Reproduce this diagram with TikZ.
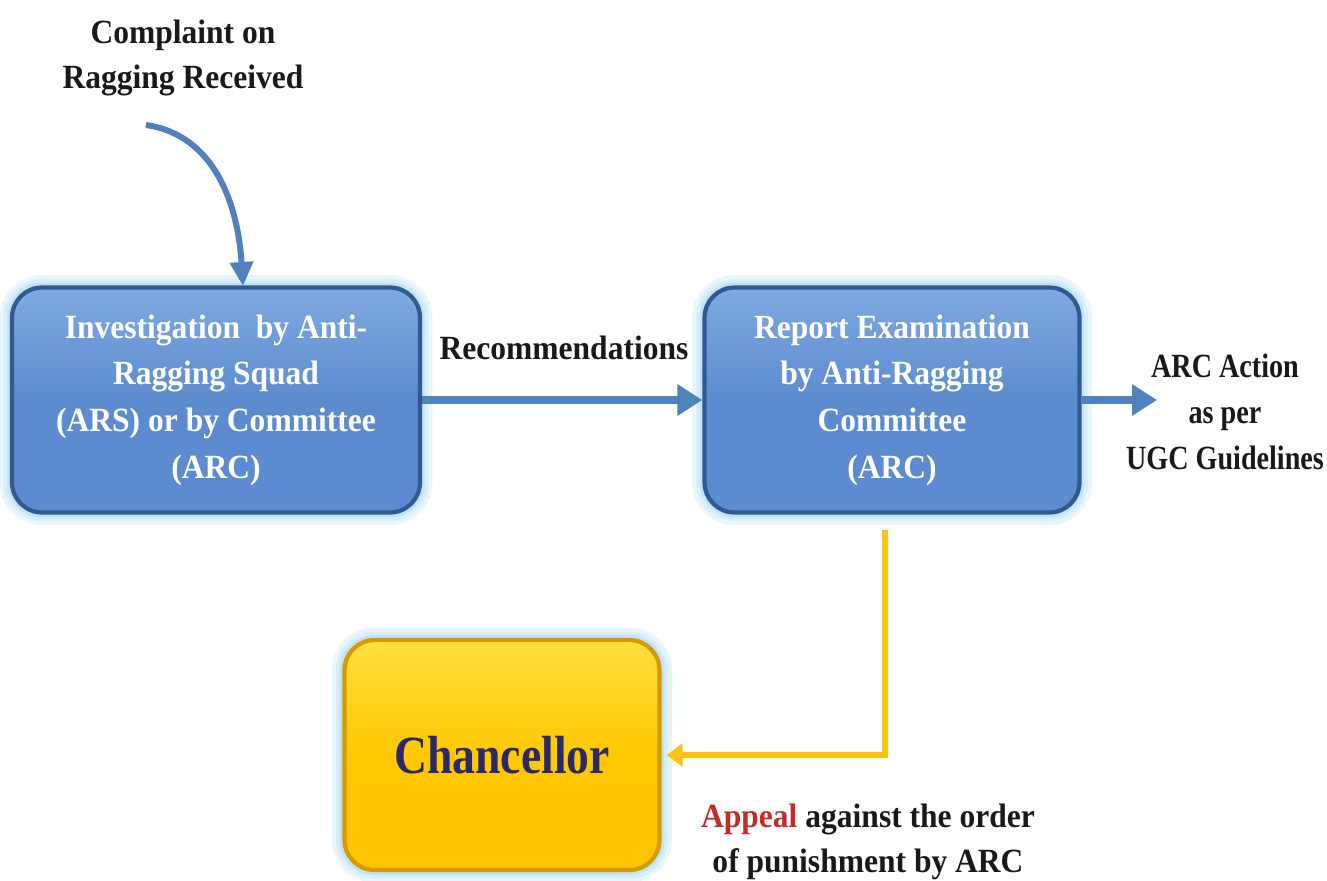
\documentclass[tikz,border=0pt]{standalone}
\usepackage{fontspec}
\newfontfamily\cond{Liberation Serif}[FakeStretch=0.93]
\newfontfamily\condb{Liberation Serif}[FakeStretch=0.85]
\newfontfamily\condc{Liberation Serif}[FakeStretch=0.83]
\usetikzlibrary{arrows.meta}
\definecolor{boxblue}{HTML}{5C8CCF}
\definecolor{boxbluetop}{HTML}{7FA9E0}
\definecolor{boxborder}{HTML}{2F5A92}
\definecolor{glowc}{HTML}{BFE3F7}
\definecolor{arrblue}{HTML}{4F81BD}
\definecolor{chanyel}{HTML}{FFC800}
\definecolor{chanyeltop}{HTML}{FFDF40}
\definecolor{chanborder}{HTML}{D49A00}
\definecolor{arryel}{HTML}{FFC20E}
\definecolor{navy}{HTML}{2A2A68}
\definecolor{appred}{HTML}{C42B2B}
\begin{document}
\begin{tikzpicture}[x=0.02cm,y=-0.02cm,
  glow/.style={preaction={draw=glowc!35,line width=0.5cm},
               preaction={draw=glowc!60,line width=0.34cm},
               preaction={draw=glowc,line width=0.2cm}},
  bluebox/.style={glow,rounded corners=0.6cm,draw=boxborder,line width=2.4pt,
    top color=boxbluetop,bottom color=boxblue,middle color=boxblue,
    minimum height=4.5cm,align=center,text=white,
    font=\cond\bfseries\fontsize{19.3}{26.6}\selectfont},
  yelbox/.style={glow,rounded corners=0.6cm,draw=chanborder,line width=2.4pt,
    top color=chanyeltop,bottom color=chanyel!92!orange,middle color=chanyel,
    minimum width=6.3cm,minimum height=4.6cm,align=center,text=navy,
    font=\condb\bfseries\fontsize{30.6}{36}\selectfont},
  lbl/.style={align=center,text=black!90,font=\cond\bfseries\fontsize{19.3}{25.8}\selectfont},
  barrow/.style={draw=arrblue,line width=0.17cm,-{Triangle[length=0.5cm,width=0.6cm]}},
  carrow/.style={draw=arrblue,line width=0.12cm,-{Triangle[length=0.48cm,width=0.45cm]}},
  yarrow/.style={draw=arryel,line width=0.13cm,-{Triangle[length=0.32cm,width=0.45cm]}}
]
\useasboundingbox (0,0) rectangle (1327,880);
\fill[white] (0,0) rectangle (1327,880);

\node[lbl] (complaint) at (183,58) {Complaint on\\Ragging Received};
\node[bluebox,minimum width=8.16cm] (inv) at (216,400)
  {Investigation~ by Anti-\\Ragging Squad\\(ARS) or by Committee\\(ARC)};
\node[bluebox,minimum width=7.5cm] (rep) at (892,400)
  {Report Examination\\by Anti-Ragging\\Committee\\(ARC)};
\node[lbl] (rec) at (564,348) {Recommendations};
\node[lbl,font=\condc\bfseries\fontsize{19.3}{26.2}\selectfont] (act) at (1225,412) {ARC Action\\as per\\UGC Guidelines};
\node[yelbox] (chan) at (502,755) {Chancellor};
\node[lbl] (appeal) at (868,842)
  {\textcolor{appred}{Appeal} against the order\\of punishment by ARC};

\coordinate (cstart) at (146,125);
\coordinate (cend) at (243,286);
\coordinate (aend) at (1157,400);
\coordinate (ystart) at (885,530);

\draw[carrow] (cstart) .. controls (215,135) and (238,205) .. (cend);
\draw[barrow] (inv.east) -- (rep.west);
\draw[barrow] (rep.east) -- (aend);
\draw[yarrow] (ystart) |- ([xshift=0.1cm]chan.east);
\end{tikzpicture}
\end{document}
